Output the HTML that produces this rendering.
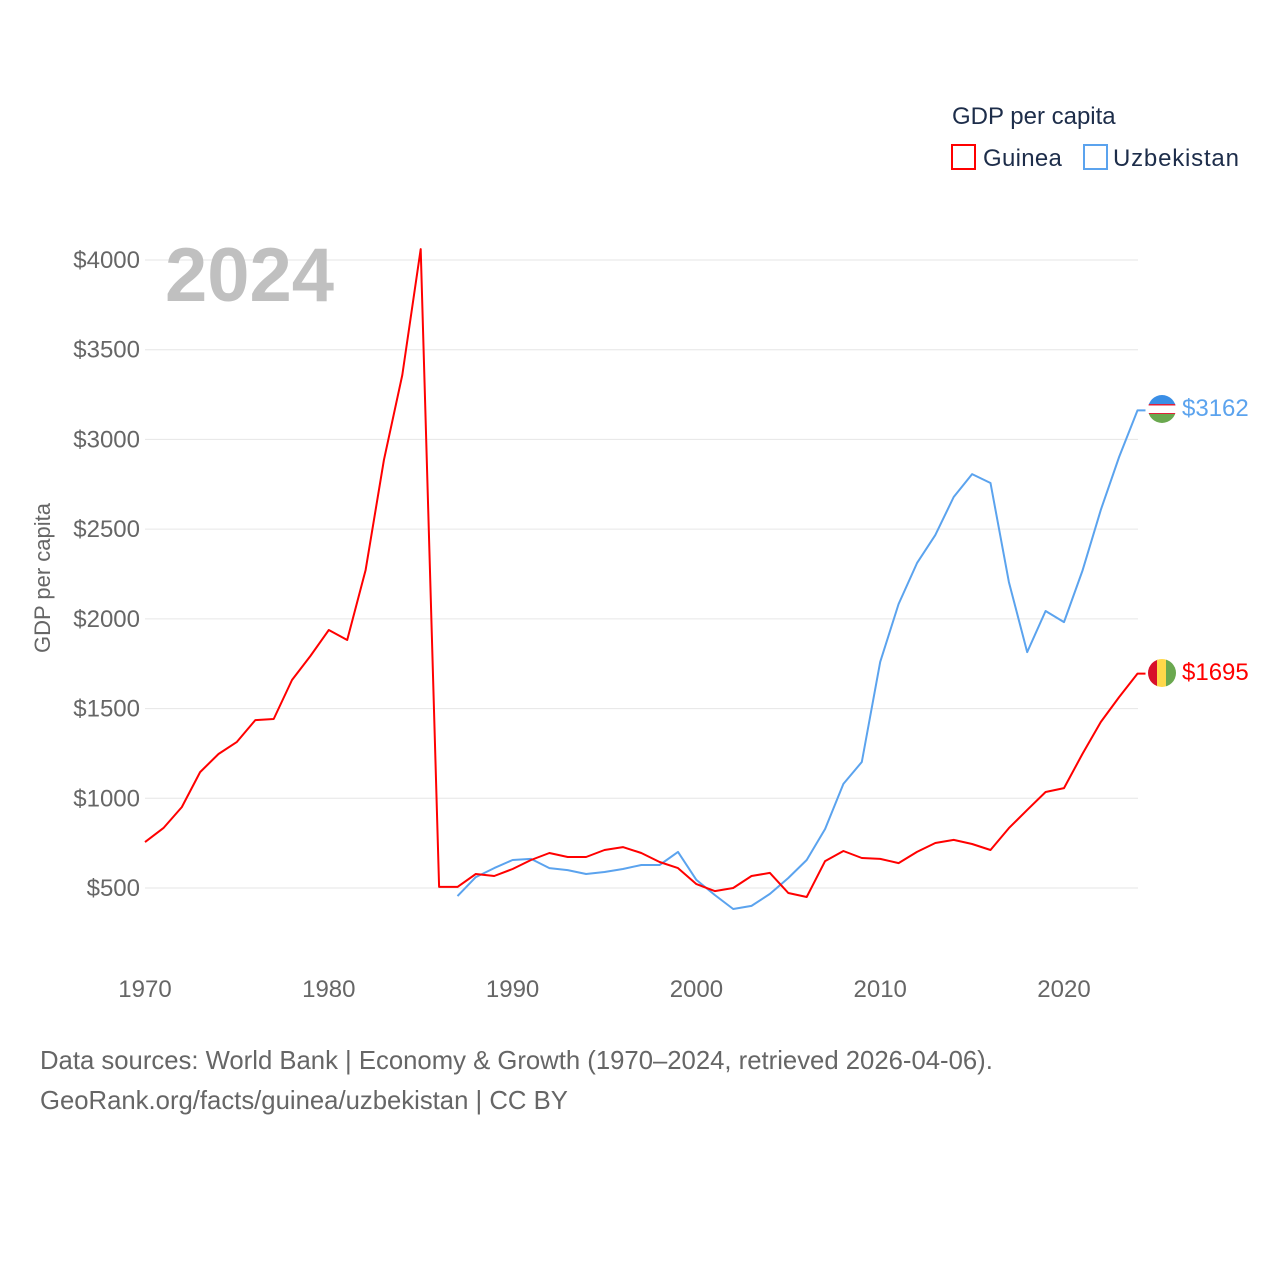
<!DOCTYPE html>
<html><head><meta charset="utf-8"><style>
body{margin:0;background:#fff;}
svg{display:block;font-family:"Liberation Sans",sans-serif;}
</style></head><body>
<svg id="chart" width="1280" height="1280" viewBox="0 0 1280 1280" xmlns="http://www.w3.org/2000/svg">
<text x="952" y="124" font-size="24" fill="#1d2d4a">GDP per capita</text>
<g><rect x="952" y="145" width="23" height="24" fill="none" stroke="#ff0000" stroke-width="2"/><text x="983" y="166" font-size="24" fill="#1d2d4a" letter-spacing="0.3">Guinea</text></g>
<g><rect x="1084" y="145" width="23" height="24" fill="none" stroke="#5ba3ee" stroke-width="2"/><text x="1113" y="166" font-size="24" fill="#1d2d4a" letter-spacing="0.8">Uzbekistan</text></g>
<g id="grid"></g>
<g id="yticks"></g>
<g id="xticks"></g>
<text x="165" y="301" font-size="76" font-weight="bold" fill="#c0c0c0">2024</text>
<text transform="translate(50,578) rotate(-90)" text-anchor="middle" font-size="22" fill="#666">GDP per capita</text>
<g id="series"></g>
<g>
<clipPath id="cu"><circle cx="1162" cy="409" r="14"/></clipPath>
<g clip-path="url(#cu)"><rect x="1148" y="395" width="28" height="10" fill="#3a8ee6"/><rect x="1148" y="405" width="28" height="9" fill="#fff"/><rect x="1148" y="404" width="28" height="1.5" fill="#e0203a"/><rect x="1148" y="413" width="28" height="1.5" fill="#e0203a"/><rect x="1148" y="414" width="28" height="10" fill="#6aa84f"/></g></g>
<g>
<clipPath id="cg"><circle cx="1162" cy="673" r="14"/></clipPath>
<g clip-path="url(#cg)"><rect x="1148" y="659" width="10" height="28" fill="#d8102a"/><rect x="1157" y="659" width="10" height="28" fill="#ffd84a"/><rect x="1166" y="659" width="10" height="28" fill="#6aa84f"/></g></g>
<text x="1182" y="416" font-size="24" fill="#5ba3ee">$3162</text>
<text x="1182" y="680" font-size="24" fill="#ff0000">$1695</text>
<text x="40" y="1069" font-size="25.7" fill="#666">Data sources: World Bank | Economy &amp; Growth (1970–2024, retrieved 2026-04-06).</text>
<text x="40" y="1109" font-size="25.7" fill="#666">GeoRank.org/facts/guinea/uzbekistan | CC BY</text>
</svg>
<script>
const yTicks=[500,1000,1500,2000,2500,3000,3500,4000];
const xTicks=[1970,1980,1990,2000,2010,2020];
const guineaStart=1970;
const guineaValues=[756,834,951,1146,1247,1314,1436,1442,1659,1793,1938,1882,2272,2885,3359,4061,506,506,578,567,606,656,695,673,673,712,728,695,645,611,522,483,500,567,584,472,450,650,706,667,662,639,701,751,768,745,712,834,935,1035,1057,1247,1425,1564,1695];
const uzbStart=1987;
const uzbValues=[455,561,611,656,662,611,600,578,589,606,628,628,701,545,461,383,400,467,556,656,829,1080,1202,1760,2083,2311,2467,2679,2807,2757,2205,1815,2044,1982,2267,2607,2902,3162];
const X=yr=>145+(yr-1970)*(1064-145)/50;
const Y=v=>888-(v-500)*(888-260)/3500;
const NS='http://www.w3.org/2000/svg';
const mk=(t,a,p)=>{const e=document.createElementNS(NS,t);for(const k in a)e.setAttribute(k,a[k]);p.appendChild(e);return e;};
const grid=document.getElementById('grid'),yt=document.getElementById('yticks'),xt=document.getElementById('xticks'),ser=document.getElementById('series');
yTicks.forEach(v=>{
 const l=mk('line',{x1:145,x2:1138,y1:Y(v),y2:Y(v),stroke:'#e6e6e6','stroke-width':1},grid);
 
 
 const t=mk('text',{x:140,y:Y(v)+8,'text-anchor':'end','font-size':24,fill:'#666'},yt);
 t.textContent='$'+v;
 
 
});
xTicks.forEach(yr=>{
 const t=mk('text',{x:X(yr),y:997,'text-anchor':'middle','font-size':24,fill:'#666'},xt);
 t.textContent=yr;
 
 
});
function line(start,vals,color,name){
 const pts=vals.map((v,i)=>X(start+i).toFixed(1)+','+Y(v).toFixed(1));
 const last=vals.length-1;
 pts.push((X(start+last)+8).toFixed(1)+','+Y(vals[last]).toFixed(1));
 const p=mk('polyline',{points:pts.join(' '),fill:'none',stroke:color,'stroke-width':2,'stroke-linejoin':'round'},ser);
 
 
}
line(uzbStart,uzbValues,'#5ba3ee','line-uzbekistan');
line(guineaStart,guineaValues,'#ff0000','line-guinea');
</script>
</body></html>
